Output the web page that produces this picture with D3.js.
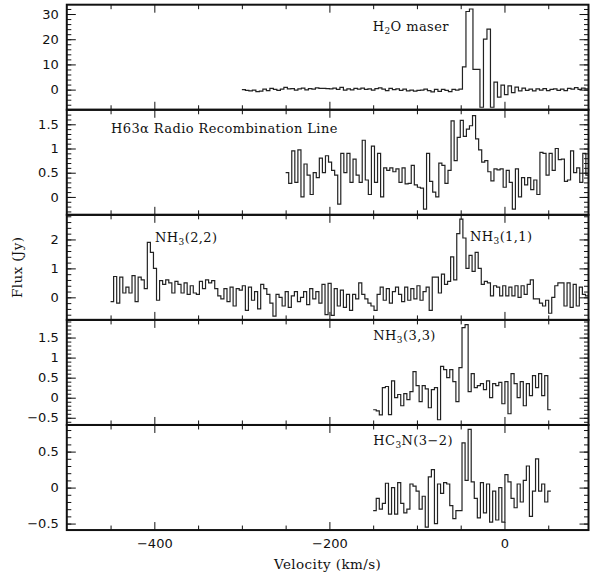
<!DOCTYPE html>
<html>
<head>
<meta charset="utf-8">
<script src="https://cdn.jsdelivr.net/npm/d3@7"></script>
<style>
  body { margin: 0; background: #fff; }
  .tick text { font-family: "DejaVu Sans", sans-serif; font-size: 13px; fill: #111; }
  .tick line { stroke: #111; stroke-width: 1; }
  .lbl { font-family: "DejaVu Serif", serif; font-size: 13px; letter-spacing: 0.4px; fill: #111; }
</style>
</head>
<body>
<svg width="590" height="575"></svg>
<script>
// velocity axis ticks (km/s)
var xMajor = [-400, -200, 0];
var xMinor = [-450, -350, -300, -250, -150, -100, -50, 50];

// H2O maser, 4 km/s channels from -300
var maserStart = -300, maserWidth = 4;
var maserFlux = [0, -0.3, -0.5, -0.2, -0.8, -0.6, 0.2, -0.4, 0.5, 0.1,
  -0.3, 0.2, 0.9, 0.3, 0.4, -0.2, 0.3, 0.6, -0.1, 0.4,
  0.2, 0.7, 0.5, 0.5, 0.4, 0.3, 0.6, 0.1, 0.9, -0.2,
  0.3, -0.1, 0.5, 0.2, 0.6, 0.1, 0.3, -0.2, 0.4, 0.7,
  0.2, -0.4, 0.5, 0.0, 0.3, -0.3, 0.2, -0.5, -0.2, -0.6,
  -0.3, -0.2, 0.2, -0.4, -0.9, 0.1, -0.7, 0.1, -0.3, -0.8,
  0.1, -0.2, 0.2,
  9, 31, 32, 8, 8, -7, 20, 24, -7, 3, -3, 1.8, -2, 1.5,
  -1.2, 1.0, -0.5, 0.6, -0.3, 0.2, -0.5, 0.3, -0.2, 0.4,
  -0.4, 0.1, 0.3, -0.3, 0.2, -0.4, 0.5, 0.2, 0.8, 0.1,
  0.6, 0.3, 0.5];

// H63alpha recombination line, 3.5 km/s channels from -250
var rrlStart = -250, rrlWidth = 3.5;
var rrlFlux = [0.5, 0.28, 0.95, 0.3, 0.97, 0.0, 0.68, 0.45, 0.05, 0.5,
  0.4, 0.8, 0.5, 0.85, 0.72, 0.55, 0.45, -0.15, 0.9, 0.5,
  0.9, 0.3, 0.78, 0.45, 0.3, 1.17, 0.35, 0.05, 1.05, 0.3,
  0.9, 0.0, 0.6, 0.55, 0.6, 0.52, 0.58, 0.3, 0.6, 0.27,
  0.28, 0.65, 0.25, 0.2, 0.18, -0.25, 0.9, 0.32, 0.1, 0.0,
  0.7, 0.65, 0.28, 0.55, 1.57, 0.75, 1.23, 1.58, 1.25, 1.4,
  1.47, 1.68, 1.2, 0.97, 0.72, 0.75, 0.52, 0.33, 0.58, 0.56,
  0.58, 0.2, 0.55, 0.3, -0.25, 0.58, 0.0, 0.4, 0.25, 0.4,
  0.15, 0.35, 0.05, 0.92, 0.9, 0.45, 0.9, 0.55, 1.0, 0.77,
  0.78, 0.32, 0.35, 0.95, 0.5, 0.6, 0.3, 0.9, 0.45, 0.8];

// NH3 (1,1) and (2,2), 3.5 km/s channels from -450
var nh3Start = -450, nh3Width = 3.5;
var nh3Flux = [-0.15, 0.72, -0.2, 0.7, 0.15, 0.35, 0.15, 0.75, -0.15, 0.7,
  0.6, 0.3, 1.9, 1.55, 1.0, -0.1, 0.58,
  0.45, 0.6, 0.5, 0.15, 0.55, 0.45, 0.15, 0.5, 0.1, 0.4,
  0.15, 0.1, 0.55, 0.3, 0.6, 0.5, 0.58, 0.3, 0.05, -0.05,
  0.3, -0.15, 0.35, -0.3,
  0.3, 0.25, 0.4, -0.45, 0.35, -0.1, 0.2, -0.4, 0.45, 0.3,
  0.1, -0.2, -0.65, 0.1, 0.0, -0.3, 0.2, -0.35, 0.05, 0.2,
  -0.15, 0.0, 0.2, -0.25, 0.3, -0.05, 0.2, -0.2, 0.45, -0.6,
  0.48, -0.62, 0.3, -0.3, 0.25, -0.35, 0.1, -0.45, 0.1, -0.05,
  0.5, 0.1, -0.05, -0.2, -0.3, -0.45, 0.1, 0.35, -0.1, 0.3,
  -0.2, 0.2, 0.35, 0.1, -0.15, 0.35, -0.1, 0.3, -0.05,
  0.4, -0.1, 0.2, 0.35, -0.45, 0.7, 0.7, 0.15, 0.8, 0.45,
  0.55, 1.4, 0.6, 2.2,
  2.7, 2.05, 1.0, 1.45, 0.9, 1.55, 1.0, 0.45, 0.55, 0.5,
  0.05, 0.4, 0.35, 0.05, 0.4, 0.05, 0.35, 0.05, 0.4, 0.0,
  0.4, 0.1, 0.45, 0.6, -0.05, -0.05, -0.2, -0.3, -0.1, -0.55,
  0.0, 0.4, 0.5, 0.5, -0.3, 0.5, -0.35, 0.45, -0.3, 0.35,
  0.1, 0.05, -0.05];

// NH3 (3,3), 3.5 km/s channels from -150
var nh33Start = -150, nh33Width = 3.5;
var nh33Flux = [-0.3, -0.33, -0.43, 0.25, 0.28, -0.42, 0.42, 0.0, 0.08, -0.2,
  0.1, -0.05, 0.15, 0.65, 0.3, -0.1, 0.3, 0.22, -0.25, 0.2,
  0.25, -0.55, 0.78, 0.7, 0.5, 0.7, 0.4, -0.1, 0.75,
  1.75, 1.82,
  0.15, 0.6, 0.25, 0.3, 0.35, 0.2, 0.42, 0.0, 0.35, 0.3,
  0.38, -0.15, 0.4, -0.4, 0.6, 0.35, 0.0, 0.4, -0.2, 0.35,
  0.05, 0.55, 0.25, 0.6, 0.05, 0.55, -0.3];

// HC3N (3-2), 3.5 km/s channels from -150
var hc3nStart = -150, hc3nWidth = 3.5;
var hc3nFlux = [-0.32, -0.15, -0.3, -0.22, 0.06, -0.37, 0.0, -0.37, 0.07, -0.22,
  -0.35, -0.3, 0.05, 0.02, -0.05, -0.3, -0.12, -0.55, 0.15, 0.25,
  -0.5, 0.05, -0.08, 0.07, 0.05, -0.25, -0.43, -0.32, -0.32,
  0.62, 0.1, 0.81,
  0.08, -0.15, -0.42, 0.07, -0.35, 0.05, -0.48, -0.05, -0.45, 0.0,
  -0.48, 0.18, 0.08, -0.15, -0.28, 0.05, -0.2, 0.1, 0.3, -0.4,
  -0.05, 0.4, -0.05, 0.05, -0.2, -0.05];

// y tick labels per panel
var maserTicks = [0, 10, 20, 30];
var rrlTicks = [0, 0.5, 1, 1.5];
var nh3Ticks = [0, 1, 2];
var nh33Ticks = [-0.5, 0, 0.5, 1, 1.5];
var hc3nTicks = [-0.5, 0, 0.5];

var panels = [
  {start: maserStart, width: maserWidth, flux: maserFlux, dom: [-8, 33.7], major: maserTicks, minor: 2,
   labels: [{v: -150.5, f: 23.4, parts: [["H", 0], ["2", 1], ["O maser", 0]]}]},
  {start: rrlStart, width: rrlWidth, flux: rrlFlux, dom: [-0.37, 1.8], major: rrlTicks, minor: 0.1,
   labels: [{v: -449.5, f: 1.31, parts: [["H63α Radio Recombination Line", 0]]}]},
  {start: nh3Start, width: nh3Width, flux: nh3Flux, dom: [-0.78, 2.85], major: nh3Ticks, minor: 0.2,
   labels: [{v: -399.2, f: 1.92, parts: [["NH", 0], ["3", 1], ["(2,2)", 0]]},
            {v: -39.4, f: 1.945, parts: [["NH", 0], ["3", 1], ["(1,1)", 0]]}]},
  {start: nh33Start, width: nh33Width, flux: nh33Flux, dom: [-0.68, 1.94], major: nh33Ticks, minor: 0.1,
   labels: [{v: -149.8, f: 1.436, parts: [["NH", 0], ["3", 1], ["(3,3)", 0]]}]},
  {start: hc3nStart, width: hc3nWidth, flux: hc3nFlux, dom: [-0.59, 0.87], major: hc3nTicks, minor: 0.1,
   labels: [{v: -149.8, f: 0.592, parts: [["HC", 0], ["3", 1], ["N(3−2)", 0]]}]}
];

var svg = d3.select("svg"),
    plotLeft = 66.8, plotRight = 588.5, plotTop = 4.7,
    panelH = 105.07;

var x = d3.scaleLinear().domain([-500, 96]).range([plotLeft, plotRight]);
var defs = svg.append("defs");
var fmt = d3.format("~g");

function noDomain(s) { s.select(".domain").remove(); }

panels.forEach(function(p, k) {
  var y0 = plotTop + k * panelH, y1 = y0 + panelH;
  var y = d3.scaleLinear().domain(p.dom).range([y1, y0]);
  var g = svg.append("g");

  defs.append("clipPath").attr("id", "clip" + k)
    .append("rect").attr("x", plotLeft).attr("y", y0)
    .attr("width", plotRight - plotLeft).attr("height", panelH);

  // histogram of the channels
  var pts = p.flux.map(function(f, i) { return [p.start + i * p.width, f]; });
  pts.push([p.start + p.flux.length * p.width, p.flux[p.flux.length - 1]]);
  g.append("path").datum(pts)
    .attr("clip-path", "url(#clip" + k + ")")
    .attr("fill", "none").attr("stroke", "#222").attr("stroke-width", 1.2)
    .attr("d", d3.line()
      .x(function(d) { return x(d[0]); })
      .y(function(d) { return y(d[1]); })
      .curve(d3.curveStepAfter));

  // minor y ticks, both sides
  var lo = Math.ceil(p.dom[0] / p.minor), hi = Math.floor(p.dom[1] / p.minor);
  var minor = d3.range(lo, hi + 1).map(function(i) { return +(i * p.minor).toFixed(4); });
  g.append("g").attr("transform", "translate(" + plotLeft + ",0)")
    .call(d3.axisLeft(y).tickValues(minor).tickFormat("").tickSizeInner(-4.5).tickSizeOuter(0)).call(noDomain);
  g.append("g").attr("transform", "translate(" + plotRight + ",0)")
    .call(d3.axisRight(y).tickValues(minor).tickFormat("").tickSizeInner(-4.5).tickSizeOuter(0)).call(noDomain);

  // major y ticks with labels
  g.append("g").attr("transform", "translate(" + plotLeft + ",0)")
    .call(d3.axisLeft(y).tickValues(p.major).tickFormat(fmt).tickSizeInner(-9).tickSizeOuter(0).tickPadding(8)).call(noDomain);
  g.append("g").attr("transform", "translate(" + plotRight + ",0)")
    .call(d3.axisRight(y).tickValues(p.major).tickFormat("").tickSizeInner(-9).tickSizeOuter(0)).call(noDomain);

  // velocity ticks on top and bottom of each panel
  g.append("g").attr("transform", "translate(0," + y0 + ")")
    .call(d3.axisTop(x).tickValues(xMinor).tickFormat("").tickSizeInner(-4.5).tickSizeOuter(0)).call(noDomain);
  g.append("g").attr("transform", "translate(0," + y0 + ")")
    .call(d3.axisTop(x).tickValues(xMajor).tickFormat("").tickSizeInner(-8).tickSizeOuter(0)).call(noDomain);
  g.append("g").attr("transform", "translate(0," + y1 + ")")
    .call(d3.axisBottom(x).tickValues(xMinor).tickFormat("").tickSizeInner(-4.5).tickSizeOuter(0)).call(noDomain);
  g.append("g").attr("transform", "translate(0," + y1 + ")")
    .call(d3.axisBottom(x).tickValues(xMajor)
      .tickFormat(k === panels.length - 1 ? fmt : "")
      .tickSizeInner(-8).tickSizeOuter(0).tickPadding(8.5)).call(noDomain);

  // frame
  g.append("rect").attr("x", plotLeft).attr("y", y0)
    .attr("width", plotRight - plotLeft).attr("height", panelH)
    .attr("fill", "none").attr("stroke", "#111").attr("stroke-width", 2);

  // line names, with subscripts
  p.labels.forEach(function(l) {
    var t = g.append("text").attr("class", "lbl")
      .attr("x", x(l.v)).attr("y", y(l.f));
    l.parts.forEach(function(part, j) {
      var s = t.append("tspan").text(part[0]);
      if (part[1]) s.attr("font-size", "9px").attr("dy", 3);
      else if (j > 0) s.attr("dy", -3);
    });
  });
});

// axis titles
svg.append("text").attr("class", "lbl")
  .attr("x", (plotLeft + plotRight) / 2).attr("y", 569)
  .attr("text-anchor", "middle").style("font-size", "13.5px")
  .text("Velocity (km/s)");

svg.append("text").attr("class", "lbl")
  .attr("transform", "translate(22," + (plotTop + 2.5 * panelH) + ") rotate(-90)")
  .attr("text-anchor", "middle").style("font-size", "13.5px")
  .text("Flux (Jy)");
</script>
</body>
</html>
